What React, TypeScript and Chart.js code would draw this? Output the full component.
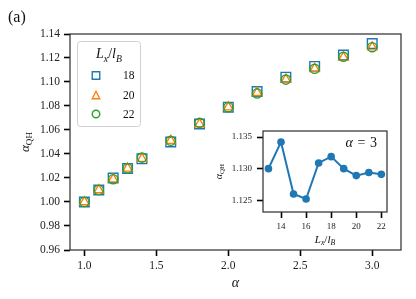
import React, { useEffect, useRef } from "react";
import { Chart, registerables } from "chart.js";

Chart.register(...registerables);

// ---- data ----
const alphaValues = [1.0, 1.1, 1.2, 1.3, 1.4, 1.6, 1.8, 2.0, 2.2, 2.4, 2.6, 2.8, 3.0];
const qhL18 = [1.0, 1.01, 1.02, 1.028, 1.036, 1.05, 1.065, 1.079, 1.092, 1.104, 1.113, 1.1225, 1.132];
const qhL20 = [1.0, 1.01, 1.019, 1.028, 1.036, 1.051, 1.065, 1.079, 1.091, 1.102, 1.111, 1.1205, 1.129];
const qhL22 = [1.0, 1.01, 1.019, 1.028, 1.037, 1.051, 1.066, 1.079, 1.0905, 1.102, 1.111, 1.121, 1.129];
const seriesLabels = ["18", "20", "22"];
const mainXTicks = [1.0, 1.5, 2.0, 2.5, 3.0];
const mainYTicks = [0.96, 0.98, 1.0, 1.02, 1.04, 1.06, 1.08, 1.1, 1.12, 1.14];

const insetL = [13, 14, 15, 16, 17, 18, 19, 20, 21, 22];
const insetQH = [1.13, 1.1342, 1.126, 1.1252, 1.1309, 1.1319, 1.13, 1.1289, 1.1294, 1.1291];
const insetXTicks = [14, 16, 18, 20, 22];
const insetYTicks = [1.125, 1.13, 1.135];

// ---- style ----
const BLUE = "#1f77b4";
const ORANGE = "#ff7f0e";
const GREEN = "#2ca02c";
const SERIF = '"Liberation Serif", "DejaVu Serif", serif';
const SPINE = "#333333";

type Part = { t: string; it?: boolean; sub?: boolean };

function drawMath(
  ctx: CanvasRenderingContext2D,
  parts: Part[],
  x: number,
  y: number,
  size: number,
  align: "left" | "center" | "right",
  rot = 0
) {
  ctx.save();
  ctx.translate(x, y);
  ctx.rotate(rot);
  ctx.fillStyle = "#111";
  ctx.textBaseline = "alphabetic";
  ctx.textAlign = "left";
  const fontFor = (p: Part) => `${p.it ? "italic " : ""}${p.sub ? size * 0.7 : size}px ${SERIF}`;
  const widths = parts.map((p) => {
    ctx.font = fontFor(p);
    return ctx.measureText(p.t).width;
  });
  const total = widths.reduce((a, b) => a + b, 0);
  let cx = align === "left" ? 0 : align === "center" ? -total / 2 : -total;
  parts.forEach((p, i) => {
    ctx.font = fontFor(p);
    ctx.fillText(p.t, cx, size * 0.32 + (p.sub ? size * 0.22 : 0));
    cx += widths[i];
  });
  ctx.restore();
}

function drawMarker(ctx: CanvasRenderingContext2D, style: string, x: number, y: number, s: number, color: string) {
  ctx.save();
  ctx.strokeStyle = color;
  ctx.lineWidth = 1.4;
  ctx.beginPath();
  if (style === "rect") {
    ctx.rect(x - s / 2, y - s / 2, s, s);
  } else if (style === "triangle") {
    ctx.moveTo(x, y - s / 2);
    ctx.lineTo(x + s / 2, y + s / 2);
    ctx.lineTo(x - s / 2, y + s / 2);
    ctx.closePath();
  } else {
    ctx.arc(x, y, s / 2, 0, Math.PI * 2);
  }
  ctx.stroke();
  ctx.restore();
}

const framePlugin = {
  id: "frame",
  beforeDraw(chart: any) {
    const { ctx, chartArea: a } = chart;
    ctx.save();
    ctx.fillStyle = "#ffffff";
    ctx.fillRect(a.left, a.top, a.right - a.left, a.bottom - a.top);
    ctx.restore();
  },
  afterDraw(chart: any) {
    const { ctx, chartArea: a } = chart;
    ctx.save();
    ctx.strokeStyle = SPINE;
    ctx.lineWidth = 1.25;
    ctx.strokeRect(a.left, a.top, a.right - a.left, a.bottom - a.top);
    ctx.restore();
  },
};

const mainTextPlugin = {
  id: "mainText",
  afterDraw(chart: any) {
    const { ctx, chartArea: a } = chart;
    // panel tag
    drawMath(ctx, [{ t: "(a)" }], 8, 17, 16, "left");
    // axis titles
    drawMath(ctx, [{ t: "α", it: true }], (a.left + a.right) / 2, 283, 14, "center");
    drawMath(ctx, [{ t: "α", it: true }, { t: "QH", sub: true }], 25, (a.top + a.bottom) / 2, 13, "center", -Math.PI / 2);
    // legend
    const lx = 77, ly = 41, lw = 63, lh = 85;
    ctx.save();
    ctx.fillStyle = "rgba(255,255,255,0.8)";
    ctx.strokeStyle = "#d0d0d0";
    ctx.lineWidth = 1;
    ctx.beginPath();
    (ctx as any).roundRect(lx + 0.5, ly + 0.5, lw, lh, 3);
    ctx.fill();
    ctx.stroke();
    ctx.restore();
    drawMath(
      ctx,
      [{ t: "L", it: true }, { t: "x", it: true, sub: true }, { t: "/" }, { t: "l", it: true }, { t: "B", it: true, sub: true }],
      109,
      54,
      14,
      "center"
    );
    const styles = ["rect", "triangle", "circle"];
    const ys = [75.5, 95, 114];
    chart.data.datasets.forEach((ds: any, i: number) => {
      drawMarker(ctx, styles[i], 96, ys[i], 7.5, ds.borderColor);
      ctx.save();
      ctx.font = `11.5px ${SERIF}`;
      ctx.fillStyle = "#111";
      ctx.textAlign = "right";
      ctx.textBaseline = "middle";
      ctx.fillText(ds.label, 134.5, ys[i] + 0.5);
      ctx.restore();
    });
  },
};

const insetTextPlugin = {
  id: "insetText",
  afterDraw(chart: any) {
    const { ctx, chartArea: a } = chart;
    drawMath(
      ctx,
      [{ t: "L", it: true }, { t: "x", it: true, sub: true }, { t: "/" }, { t: "l", it: true }, { t: "B", it: true, sub: true }],
      (a.left + a.right) / 2,
      119,
      11,
      "center"
    );
    drawMath(ctx, [{ t: "α", it: true }, { t: "QH", sub: true }], 19, (a.top + a.bottom) / 2, 10, "center", -Math.PI / 2);
    drawMath(ctx, [{ t: "α", it: true }, { t: "\u2004=\u20043" }], a.right - 10, 23, 14, "right");
  },
};

const tickGrid = (len: number) => ({
  display: true,
  drawOnChartArea: false,
  drawTicks: true,
  tickLength: len,
  tickWidth: 1.6,
  tickColor: "#000",
});

export default function App() {
  const mainRef = useRef<HTMLCanvasElement>(null);
  const insetRef = useRef<HTMLCanvasElement>(null);

  useEffect(() => {
    const mk = (vals: number[], label: string, style: string, color: string, r: number, order: number) => ({
      label,
      data: alphaValues.map((a, i) => ({ x: a, y: vals[i] })),
      pointStyle: style,
      pointRadius: r,
      borderColor: color,
      backgroundColor: "rgba(0,0,0,0)",
      pointBorderWidth: 1.4,
      order,
    });
    const main = new Chart(mainRef.current!, {
      type: "scatter",
      data: {
        datasets: [
          mk(qhL18, seriesLabels[0], "rect", BLUE, 6.8, 2),
          mk(qhL20, seriesLabels[1], "triangle", ORANGE, 5.4, 1),
          mk(qhL22, seriesLabels[2], "circle", GREEN, 4.6, 0),
        ] as any,
      },
      options: {
        responsive: false,
        animation: false,
        devicePixelRatio: 1,
        layout: { padding: { left: 0, top: 34, right: 15, bottom: 0 } },
        plugins: { legend: { display: false }, tooltip: { enabled: false } },
        scales: {
          x: {
            type: "linear",
            min: 0.9,
            max: 3.2,
            afterBuildTicks: (s: any) => {
              s.ticks = mainXTicks.map((v) => ({ value: v }));
            },
            afterFit: (s: any) => {
              s.height = 49;
            },
            grid: tickGrid(6) as any,
            border: { display: false },
            ticks: {
              font: { family: SERIF, size: 11.5 },
              color: "#222",
              padding: 3,
              maxRotation: 0,
              callback: (v: any) => Number(v).toFixed(1),
            },
          },
          y: {
            type: "linear",
            min: 0.96,
            max: 1.14,
            afterBuildTicks: (s: any) => {
              s.ticks = mainYTicks.map((v) => ({ value: v }));
            },
            afterFit: (s: any) => {
              s.width = 70;
            },
            grid: tickGrid(6) as any,
            border: { display: false },
            ticks: {
              font: { family: SERIF, size: 11.5 },
              color: "#222",
              padding: 4,
              callback: (v: any) => Number(v).toFixed(2),
            },
          },
        },
      },
      plugins: [framePlugin, mainTextPlugin],
    });

    const inset = new Chart(insetRef.current!, {
      type: "line",
      data: {
        datasets: [
          {
            label: "α = 3",
            data: insetL.map((l, i) => ({ x: l, y: insetQH[i] })),
            borderColor: BLUE,
            backgroundColor: BLUE,
            borderWidth: 2,
            pointRadius: 3.8,
            pointBackgroundColor: BLUE,
            pointBorderWidth: 0,
          },
        ] as any,
      },
      options: {
        responsive: false,
        animation: false,
        devicePixelRatio: 1,
        layout: { padding: { left: 0, top: 11, right: 8, bottom: 0 } },
        plugins: { legend: { display: false }, tooltip: { enabled: false } },
        scales: {
          x: {
            type: "linear",
            min: 12.565,
            max: 22.45,
            afterBuildTicks: (s: any) => {
              s.ticks = insetXTicks.map((v) => ({ value: v }));
            },
            afterFit: (s: any) => {
              s.height = 38;
            },
            grid: tickGrid(6) as any,
            border: { display: false },
            ticks: {
              font: { family: SERIF, size: 9 },
              color: "#222",
              padding: 3,
              maxRotation: 0,
              callback: (v: any) => String(v),
            },
          },
          y: {
            type: "linear",
            min: 1.12315,
            max: 1.13595,
            afterBuildTicks: (s: any) => {
              s.ticks = insetYTicks.map((v) => ({ value: v }));
            },
            afterFit: (s: any) => {
              s.width = 63;
            },
            grid: tickGrid(6) as any,
            border: { display: false },
            ticks: {
              font: { family: SERIF, size: 9 },
              color: "#222",
              padding: 5,
              callback: (v: any) => Number(v).toFixed(3),
            },
          },
        },
      },
      plugins: [framePlugin, insetTextPlugin],
    });

    return () => {
      main.destroy();
      inset.destroy();
    };
  }, []);

  return (
    <div style={{ position: "fixed", left: 0, top: 0, width: 416, height: 299, background: "#fff", overflow: "hidden" }}>
      <canvas ref={mainRef} width={416} height={299} style={{ position: "absolute", left: 0, top: 0, width: 416, height: 299 }} />
      <canvas ref={insetRef} width={195} height={130} style={{ position: "absolute", left: 200, top: 120, width: 195, height: 130 }} />
    </div>
  );
}
